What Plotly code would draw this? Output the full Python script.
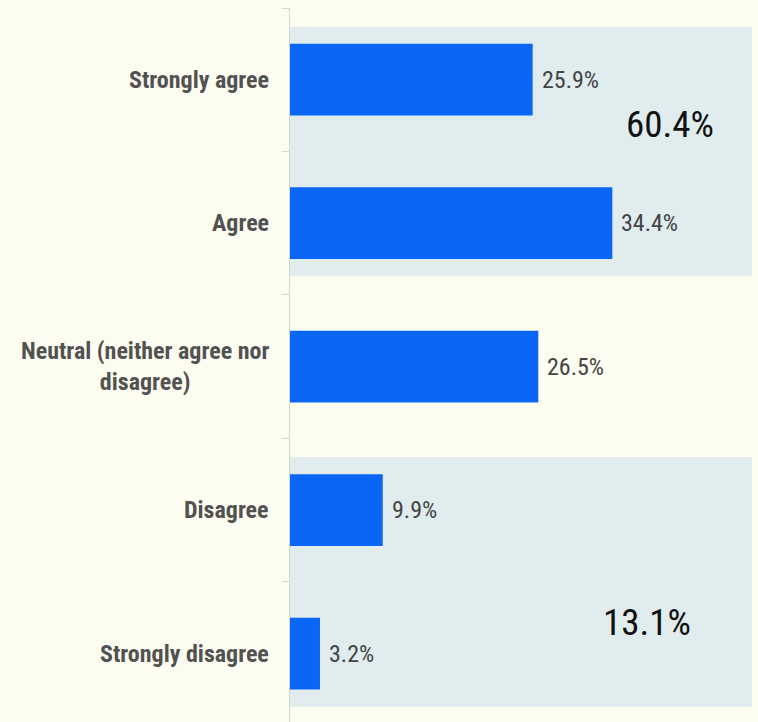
import plotly.graph_objects as go

categories = ["Strongly agree", "Agree", "Neutral (neither agree nor disagree)", "Disagree", "Strongly disagree"]
cat_labels = ["Strongly agree", "Agree", "Neutral (neither agree nor<br>disagree)", "Disagree", "Strongly disagree"]
values = [25.9, 34.4, 26.5, 9.9, 3.2]
value_labels = ["25.9%", "34.4%", "26.5%", "9.9%", "3.2%"]
group_labels = ["60.4%", "13.1%"]
group_members = [[0, 1], [3, 4]]

BG = "#FCFDF0"
SHADE = "#E0ECEE"
BAR = "#0A66F7"
NARROW = "Liberation Sans Narrow, Arial Narrow, Roboto Condensed, DejaVu Sans Condensed, sans-serif"

fig = go.Figure()
fig.add_trace(go.Bar(
    y=categories, x=values, orientation="h", width=0.5,
    marker=dict(color=BAR, line=dict(width=0)),
    hoverinfo="skip",
))

# shaded group panels
for members in group_members:
    fig.add_shape(type="rect", xref="x", yref="y",
                  x0=0, x1=49.3,
                  y0=members[0] - 0.37, y1=members[-1] + 0.37,
                  fillcolor=SHADE, line=dict(width=0), layer="below")

# value labels
for i, (v, t) in enumerate(zip(values, value_labels)):
    fig.add_annotation(x=v, y=categories[i], xref="x", yref="y", text=t,
                       showarrow=False, xanchor="left", xshift=7,
                       font=dict(family=NARROW, size=24, color="#444444"))

# category labels
for i, lab in enumerate(cat_labels):
    fig.add_annotation(x=0, y=categories[i], xref="paper", yref="y", text=lab,
                       showarrow=False, xanchor="right", align="center", xshift=-19,
                       font=dict(family=NARROW, size=24, color="#525252", weight="bold"))

# group totals
group_pos = [(40.6, 0.315), (38.1, 3.786)]
for (gx, gy), t in zip(group_pos, group_labels):
    fig.add_annotation(x=gx, y=gy, xref="x", yref="y", text=t, showarrow=False,
                       xanchor="center", yanchor="middle",
                       font=dict(family=NARROW, size=37, color="#111111"))

fig.update_layout(
    width=758, height=722,
    margin=dict(l=290, r=0, t=8, b=0),
    paper_bgcolor=BG, plot_bgcolor=BG,
    showlegend=False, bargap=0.5,
    xaxis=dict(range=[0, 49.95], visible=False, fixedrange=True),
    yaxis=dict(categoryorder="array", categoryarray=categories,
               range=[4.476, -0.5], showticklabels=False,
               showline=True, linecolor="#D6D6D0", linewidth=1,
               ticks="outside", tickson="boundaries", ticklen=7, tickcolor="#D6D6D0",
               showgrid=False, zeroline=False, fixedrange=True),
)

fig.write_html("out.html", config={"displayModeBar": False},
               post_script="document.body.style.margin='0';document.body.style.overflow='hidden';document.body.style.background='" + BG + "';")
